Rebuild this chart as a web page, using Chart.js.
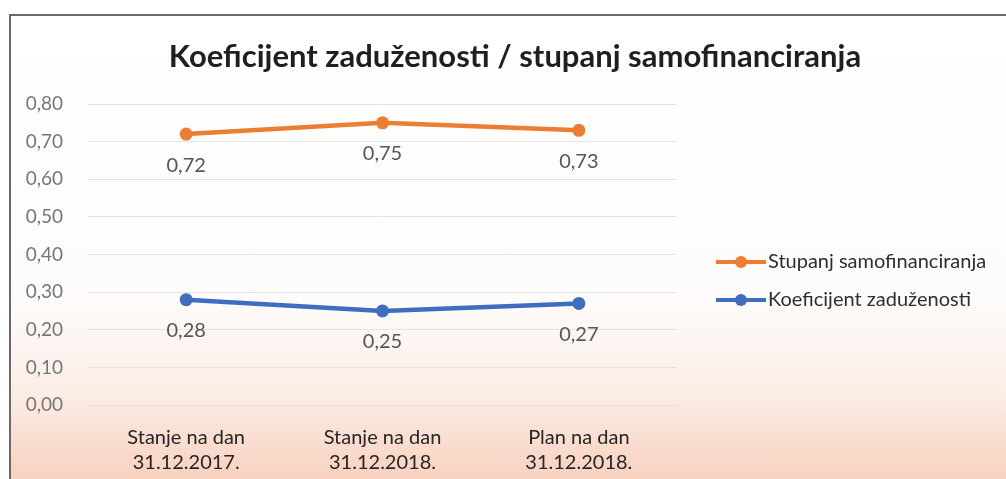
<!DOCTYPE html>
<html lang="hr">
<head>
    <meta charset="UTF-8">
    <title>Koeficijent zaduženosti / stupanj samofinanciranja</title>
    <script src="https://cdn.jsdelivr.net/npm/chart.js"></script>
    <style>
        body {
            margin: 0;
            width: 1006px;
            height: 479px;
            overflow: hidden;
            background: #ffffff;
            font-family: Lato, "Open Sans", sans-serif;
        }
        .frame {
            position: absolute;
            left: 9px;
            top: 14px;
            width: 1010px;
            height: 470px;
            border-top: 2px solid #6a6a6a;
            border-left: 2px solid #6a6a6a;
            background: linear-gradient(to bottom, #ffffff 0%, #fefcfb 60%, #fbede6 80%, #f8cfbc 100%);
        }
        #chart {
            position: absolute;
            left: 0;
            top: 0;
        }
    </style>
</head>
<body>
    <div class="frame"></div>
    <canvas id="chart" width="1006" height="479"></canvas>

    <script>
        // Data
        const categories = [
            ['Stanje na dan', '31.12.2017.'],
            ['Stanje na dan', '31.12.2018.'],
            ['Plan na dan', '31.12.2018.']
        ];
        const selfFinancing = [0.72, 0.75, 0.73];
        const debtRatio = [0.28, 0.25, 0.27];
        const yTicks = [0, 0.1, 0.2, 0.3, 0.4, 0.5, 0.6, 0.7, 0.8];

        const ORANGE = '#ED7D31';
        const BLUE = '#3F6DC0';
        const FONT = 'Lato, "Open Sans", sans-serif';

        const fmt = v => v.toFixed(2).replace('.', ',');

        // value labels under each point
        const valueLabels = {
            id: 'valueLabels',
            afterDatasetsDraw(chart) {
                const ctx = chart.ctx;
                ctx.save();
                ctx.font = '20px ' + FONT;
                ctx.fillStyle = '#555555';
                ctx.textAlign = 'center';
                ctx.textBaseline = 'middle';
                chart.data.datasets.forEach((ds, i) => {
                    chart.getDatasetMeta(i).data.forEach((pt, j) => {
                        ctx.fillText(fmt(ds.data[j]), pt.x, pt.y + 31);
                    });
                });
                ctx.restore();
            }
        };

        // Excel style legend on the right: line with marker + text
        const sideLegend = {
            id: 'sideLegend',
            afterDraw(chart) {
                const ctx = chart.ctx;
                const x0 = 716, x1 = 766;
                let y = 262;
                ctx.save();
                ctx.font = '20px ' + FONT;
                ctx.textBaseline = 'middle';
                ctx.textAlign = 'left';
                chart.data.datasets.forEach(ds => {
                    ctx.strokeStyle = ds.borderColor;
                    ctx.lineWidth = 4;
                    ctx.beginPath();
                    ctx.moveTo(x0, y);
                    ctx.lineTo(x1, y);
                    ctx.stroke();
                    ctx.fillStyle = ds.borderColor;
                    ctx.beginPath();
                    ctx.arc((x0 + x1) / 2, y, 6, 0, Math.PI * 2);
                    ctx.fill();
                    ctx.fillStyle = '#2e2e2e';
                    ctx.fillText(ds.label, x1 + 2, y);
                    y += 38;
                });
                ctx.restore();
            }
        };

        const titleText = {
            id: 'titleText',
            afterDraw(chart) {
                const ctx = chart.ctx;
                ctx.save();
                ctx.font = 'bold 31px ' + FONT;
                ctx.fillStyle = '#1f1f1f';
                ctx.textAlign = 'center';
                ctx.textBaseline = 'middle';
                ctx.fillText('Koeficijent zaduženosti / stupanj samofinanciranja', 515, 57);
                ctx.restore();
            }
        };

        new Chart(document.getElementById('chart'), {
            type: 'line',
            data: {
                labels: categories,
                datasets: [
                    {
                        label: 'Stupanj samofinanciranja',
                        data: selfFinancing,
                        borderColor: ORANGE,
                        backgroundColor: ORANGE,
                        borderWidth: 4.5,
                        pointRadius: 6.5,
                        pointBorderWidth: 0,
                        tension: 0
                    },
                    {
                        label: 'Koeficijent zaduženosti',
                        data: debtRatio,
                        borderColor: BLUE,
                        backgroundColor: BLUE,
                        borderWidth: 4.5,
                        pointRadius: 6.5,
                        pointBorderWidth: 0,
                        tension: 0
                    }
                ]
            },
            options: {
                responsive: false,
                animation: false,
                layout: {
                    padding: { top: 104, right: 329, bottom: 0, left: 0 }
                },
                plugins: {
                    legend: { display: false },
                    title: { display: false },
                    tooltip: { enabled: false }
                },
                scales: {
                    x: {
                        offset: true,
                        grid: { display: false, drawTicks: false },
                        border: { display: false },
                        ticks: {
                            color: '#262626',
                            font: { family: FONT, size: 20, lineHeight: 1.25 },
                            padding: 20,
                            maxRotation: 0
                        },
                        afterFit(scale) { scale.height = 74; }
                    },
                    y: {
                        min: 0,
                        max: 0.8,
                        afterBuildTicks(scale) {
                            scale.ticks = yTicks.map(v => ({ value: v }));
                        },
                        grid: { color: '#e4e4e4', lineWidth: 1, drawTicks: false },
                        border: { display: false },
                        ticks: {
                            color: '#777777',
                            font: { family: FONT, size: 19 },
                            padding: 25,
                            callback: v => fmt(v)
                        },
                        afterFit(scale) { scale.width = 88; }
                    }
                }
            },
            plugins: [valueLabels, sideLegend, titleText]
        });
    </script>
</body>
</html>
